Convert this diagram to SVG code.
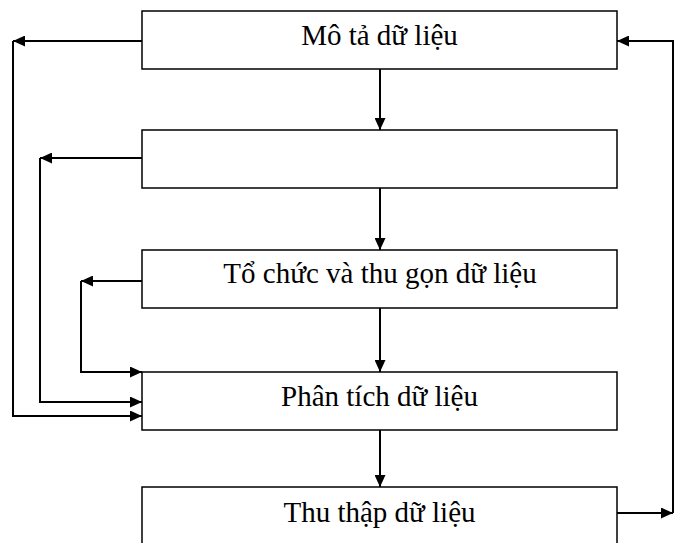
<svg xmlns="http://www.w3.org/2000/svg" width="681" height="543" viewBox="0 0 681 543">
<style>
.box{fill:#fff;stroke:#000;stroke-width:1.5}
.lbl{font-family:"Liberation Serif","Times New Roman",serif;font-size:29px;fill:#000;text-anchor:middle}
.con{fill:none;stroke:#000;stroke-width:2;marker-end:url(#ah)}
.ln{fill:none;stroke:#000;stroke-width:2}
</style>
<defs>
<marker id="ah" markerUnits="userSpaceOnUse" markerWidth="12" markerHeight="11" refX="12" refY="5.5" orient="auto">
<path d="M0,0 L12,5.5 L0,11 z" fill="#000"/>
</marker>
</defs>
<rect width="681" height="543" fill="#fff"/>
<g id="n1"><rect class="box" x="142" y="11" width="475" height="58"/><text class="lbl" x="379.5" y="45">Mô tả dữ liệu</text></g>
<g id="n2"><rect class="box" x="142" y="130" width="475" height="58"/></g>
<g id="n3"><rect class="box" x="142" y="250" width="475" height="58"/><text class="lbl" x="380" y="283">Tổ chức và thu gọn dữ liệu</text></g>
<g id="n4"><rect class="box" x="142" y="372" width="475" height="58"/><text class="lbl" x="379.5" y="406">Phân tích dữ liệu</text></g>
<g id="n5"><rect class="box" x="142" y="487" width="475" height="60"/><text class="lbl" x="379.5" y="522">Thu thập dữ liệu</text></g>
<g id="connectors">
<path class="con" d="M380,69 L380,130"/>
<path class="con" d="M380,188 L380,250"/>
<path class="con" d="M380,308 L380,372"/>
<path class="con" d="M380,430 L380,487"/>
<path class="con" d="M142,41 L13,41"/>
<path class="con" d="M13,41 L13,416 L142,416"/>
<path class="con" d="M142,158 L40,158"/>
<path class="con" d="M40,158 L40,402 L142,402"/>
<path class="con" d="M142,281 L81,281"/>
<path class="con" d="M81,281 L81,372 L142,372"/>
<path class="con" d="M617,513 L673,513"/>
<path class="con" d="M673,513 L673,41 L617,41"/>
</g>
</svg>
